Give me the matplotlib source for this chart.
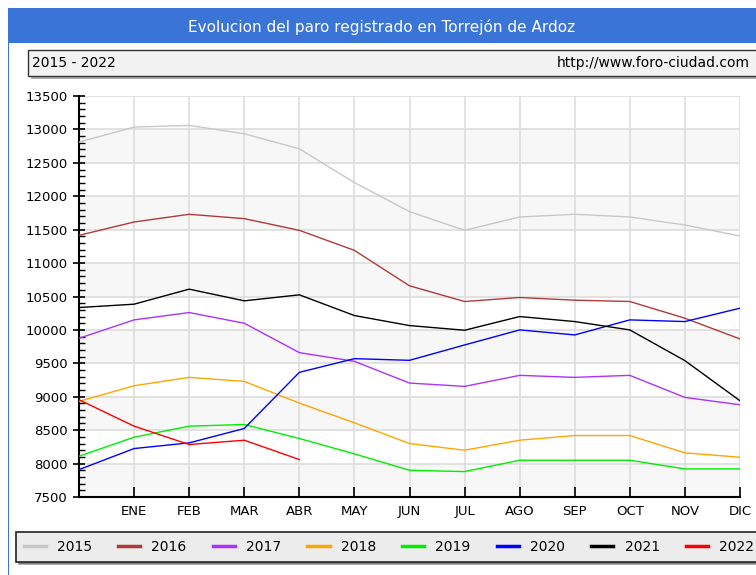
import matplotlib.pyplot as plt
from matplotlib.patches import Rectangle
from matplotlib.lines import Line2D

months = ["", "ENE", "FEB", "MAR", "ABR", "MAY", "JUN", "JUL", "AGO", "SEP", "OCT", "NOV", "DIC"]
years = ["2015", "2016", "2017", "2018", "2019", "2020", "2021", "2022"]
colors = ["#c8c8c8", "#b03a3a", "#aa33ff", "#ffa500", "#00ee00", "#0000ff", "#000000", "#ff0000"]

# first point = december of previous year
paro_2015 = [12810, 13035, 13060, 12935, 12710, 12205, 11770, 11490, 11690, 11730, 11690, 11570, 11405]
paro_2016 = [11415, 11615, 11730, 11665, 11490, 11190, 10660, 10425, 10485, 10445, 10425, 10175, 9865]
paro_2017 = [9875, 10150, 10260, 10100, 9660, 9530, 9205, 9155, 9320, 9290, 9320, 8990, 8880]
paro_2018 = [8930, 9165, 9290, 9230, 8905, 8610, 8300, 8200, 8350, 8420, 8420, 8160, 8095]
paro_2019 = [8110, 8395, 8560, 8585, 8375, 8145, 7900, 7880, 8050, 8050, 8050, 7920, 7920]
paro_2020 = [7910, 8225, 8310, 8525, 9365, 9570, 9545, 9775, 10000, 9925, 10150, 10125, 10325]
paro_2021 = [10335, 10385, 10610, 10435, 10525, 10215, 10065, 9995, 10200, 10125, 10000, 9540, 8940]
paro_2022 = [8955, 8560, 8285, 8350, 8060]
series = [paro_2015, paro_2016, paro_2017, paro_2018, paro_2019, paro_2020, paro_2021, paro_2022]

W, H = 756, 575
fig = plt.figure(figsize=(W / 100, H / 100), dpi=100)

def px(x, y, w, h):
    # pixel box (top-left origin) -> figure fraction
    return (x / W, 1 - (y + h) / H, w / W, h / H)

# title bar and frame
x0, y0, w0, h0 = px(8, 8, 760, 35)
fig.patches.append(Rectangle((x0, y0), w0, h0, transform=fig.transFigure, facecolor="#3a74d6", edgecolor="none"))
x0, y0, w0, h0 = px(8, 43, 1, 540)
fig.patches.append(Rectangle((x0, y0), w0, h0, transform=fig.transFigure, facecolor="#3a74d6", edgecolor="none"))
fig.text(382 / W, 1 - 27 / H, "Evolucion del paro registrado en Torrejón de Ardoz", color="white",
         fontsize=11, ha="center", va="center")

# subtitle box with shadow
x0, y0, w0, h0 = px(31, 53, 740, 26)
fig.patches.append(Rectangle((x0, y0), w0, h0, transform=fig.transFigure, facecolor="#b0b0b0", edgecolor="none"))
x0, y0, w0, h0 = px(28, 50, 740, 26)
fig.patches.append(Rectangle((x0, y0), w0, h0, transform=fig.transFigure, facecolor="#f2f2f2",
                             edgecolor="#333333", linewidth=1))
fig.text(32 / W, 1 - 63 / H, "2015 - 2022", fontsize=10, ha="left", va="center")
fig.text(750 / W, 1 - 63 / H, "http://www.foro-ciudad.com", fontsize=10, ha="right", va="center")

ax = fig.add_axes(px(79, 96, 661, 401))
ax.set_xlim(0, 12)
ax.set_ylim(7500, 13500)

# alternating bands
for lo in range(7500, 13500, 1000):
    ax.axhspan(lo, lo + 500, facecolor="#f7f7f7", edgecolor="none", zorder=0)
ax.set_yticks(range(7500, 13501, 500))
ax.set_yticks(range(7500, 13501, 100), minor=True)
ax.set_xticks(range(13))
ax.set_xticklabels(months)
ax.grid(True, which="major", color="#dddddd", linewidth=1.2, zorder=1)
ax.set_axisbelow(True)

for s, c in zip(series, colors):
    ax.plot(range(len(s)), s, color=c, linewidth=1.0, zorder=3)

for side in ["top", "right"]:
    ax.spines[side].set_visible(False)
ax.spines["left"].set_linewidth(1.5)
ax.spines["bottom"].set_linewidth(1.5)
ax.tick_params(axis="y", which="major", direction="inout", length=8, width=1.2, labelsize=9.5, pad=4)
ax.tick_params(axis="y", which="minor", direction="in", length=4, width=1)
ax.tick_params(axis="x", which="major", direction="in", length=7, width=1.2, labelsize=9.5, pad=6)

# legend box
handles = [Line2D([], [], color=c, linewidth=2.5) for c in colors]
leg = fig.legend(handles, years, loc="center left", bbox_to_anchor=(9 / W, 1 - 547 / H), ncol=8,
                 frameon=True, fancybox=False, shadow=True, facecolor="#ececec", edgecolor="#222222",
                 fontsize=10, handlelength=1.6, handletextpad=0.8, columnspacing=1.88,
                 borderpad=0.55)
leg.get_frame().set_linewidth(1.2)

fig.savefig("out.png", dpi=100)
